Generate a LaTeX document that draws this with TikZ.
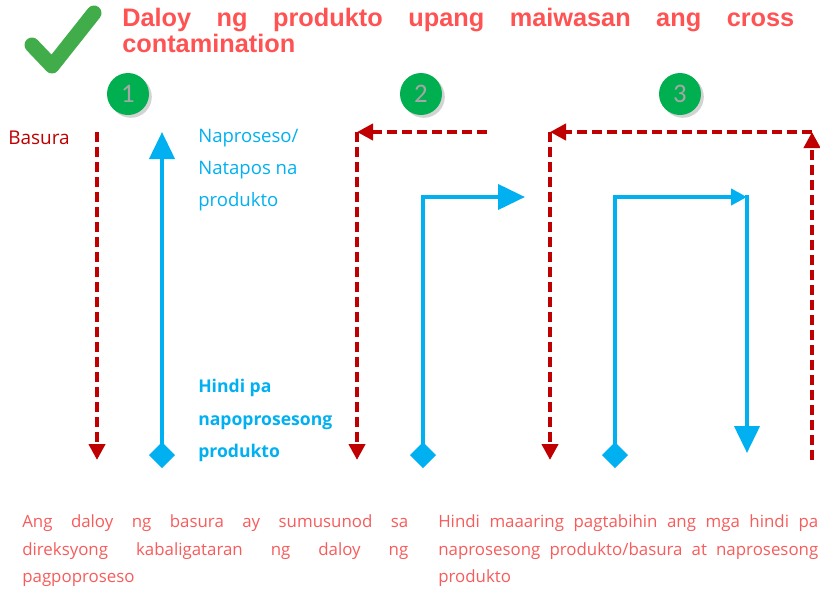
\documentclass[tikz,border=0pt]{standalone}
\usepackage{fontspec}
\usepackage{tkz-graph}
\usetikzlibrary{arrows.meta,%
	shapes.geometric,%
	shadows}
\setmainfont{Open Sans}
\newfontfamily\titlefont{Liberation Sans}
\newfontfamily\numfont{Carlito}

\definecolor{wastered}{RGB}{192,0,0}
\definecolor{flowblue}{RGB}{0,176,240}
\definecolor{titlered}{RGB}{255,82,82}
\definecolor{notered}{RGB}{246,92,92}
\definecolor{checkgreen}{RGB}{64,173,74}
\definecolor{stepgreen}{RGB}{0,176,80}
\definecolor{stepgrey}{RGB}{166,166,166}

\tikzset{
	stepnum/.style = {circle, fill=stepgreen, minimum size=1.05cm, inner sep=0pt,
		font=\numfont\fontsize{19}{19}\selectfont, text=stepgrey,
		drop shadow={shadow xshift=2pt, shadow yshift=-2pt, opacity=0.35}},
	handtext/.style = {inner sep=0pt, anchor=north west, align=left},
	note/.style = {inner sep=0pt, anchor=north west, text width=9.5cm, align=justify,
		text=notered, font=\fontsize{12}{19.6}\selectfont\sloppy},
	wasteflow/.style = {-{Triangle[length=0.4cm,width=0.4cm]}, draw=wastered,
		line width=0.1cm, dash pattern=on 0.25cm off 0.125cm},
	goodflow/.style = {draw=flowblue, line width=0.1cm, line cap=rect},
	bigtip/.style = {-{Triangle[length=0.675cm,width=0.625cm]}},
	smalltip/.style = {-{Triangle[length=0.4cm,width=0.4cm]}}
}

\begin{document}
\begin{tikzpicture}
	\clip (0,0) rectangle (20.5,-14.8);

	%check
	\draw[checkgreen, line width=0.375cm, line cap=round, line join=round]
		(0.8,-1.125) -- (1.3,-1.65) -- (2.35,-0.325);

	%title
	\node[inner sep=0pt, anchor=north west, text width=16.8cm, align=justify,
		text=titlered, font=\titlefont\bfseries\fontsize{18}{18.5}\selectfont]
		(title) at (3.05,-0.2) {Daloy ng produkto upang maiwasan ang cross\linebreak contamination};

	%steps
	\node[stepnum] (num1) at (3.2,-2.35) {1};
	\node[stepnum] (num2) at (10.525,-2.35) {2};
	\node[stepnum] (num3) at (17,-2.35) {3};

	%labels
	\node[handtext, anchor=base west, text=wastered, font=\fontsize{13.5}{22.8}\selectfont]
		(basura) at (0.2,-3.6) {Basura};
	\node[handtext, text=flowblue, font=\fontsize{13.2}{22.8}\selectfont]
		(tapos) at (4.95,-3.22) {Naproseso/\\Natapos na\\produkto};
	\node[handtext, text=flowblue, font=\bfseries\fontsize{12.5}{23.1}\selectfont]
		(hilaw) at (4.95,-9.475) {Hindi pa\\napoprosesong\\produkto};

	\node[note, text width=9.65cm] (note1) at (0.55,-12.86)
		{Ang daloy ng basura ay sumusunod sa\linebreak direksyong kabaligataran ng daloy ng\linebreak pagpoproseso};
	\node[note] (note2) at (10.95,-12.86)
		{Hindi maaaring pagtabihin ang mga hindi pa\linebreak naprosesong produkto/basura at naprosesong\linebreak produkto};

	\SetGraphUnit{1}
	\GraphInit[vstyle=Classic]
	\SetVertexNoLabel

	%corners
	\tikzset{VertexStyle/.style =
			{shape=circle, minimum size=0pt, inner sep=0pt}
	}
	\Vertex[x=2.425,y=-3.3]{w1top}
	\Vertex[x=2.425,y=-11.5]{w1end}
	\Vertex[x=4.05,y=-3.3]{p1end}

	\Vertex[x=12.175,y=-3.3]{w2start}
	\Vertex[x=8.925,y=-3.3]{w2bend}
	\Vertex[x=8.925,y=-11.5]{w2end}
	\Vertex[x=10.575,y=-4.925]{p2bend}
	\Vertex[x=13.125,y=-4.925]{p2end}

	\Vertex[x=20.3,y=-11.5]{w3start}
	\Vertex[x=20.3,y=-3.3]{w3bendA}
	\Vertex[x=13.75,y=-3.3]{w3bendB}
	\Vertex[x=13.75,y=-11.5]{w3end}
	\Vertex[x=15.375,y=-4.925]{p3bendA}
	\Vertex[x=18.675,y=-4.925]{p3bendB}
	\Vertex[x=18.675,y=-11.325]{p3end}

	%starts
	\tikzset{VertexStyle/.style =
			{shape=diamond, fill=flowblue, minimum size=0.65cm, inner sep=0pt}
	}
	\Vertex[x=4.05,y=-11.375]{p1start}
	\Vertex[x=10.575,y=-11.375]{p2start}
	\Vertex[x=15.375,y=-11.375]{p3start}

	%waste
	\tikzstyle{EdgeStyle}=[wasteflow]
	\Edge(w1top)(w1end)
	\Edge(w2start)(w2bend)
	\Edge(w2bend)(w2end)
	\Edge(w3start)(w3bendA)
	\Edge(w3bendA)(w3bendB)
	\Edge(w3bendB)(w3end)

	%product
	\tikzstyle{EdgeStyle}=[goodflow]
	\Edge(p2start)(p2bend)
	\Edge(p3start)(p3bendA)
	\tikzstyle{EdgeStyle}=[goodflow, bigtip]
	\Edge(p1start)(p1end)
	\Edge(p2bend)(p2end)
	\Edge(p3bendB)(p3end)
	\tikzstyle{EdgeStyle}=[goodflow, smalltip]
	\Edge(p3bendA)(p3bendB)
\end{tikzpicture}
\end{document}
